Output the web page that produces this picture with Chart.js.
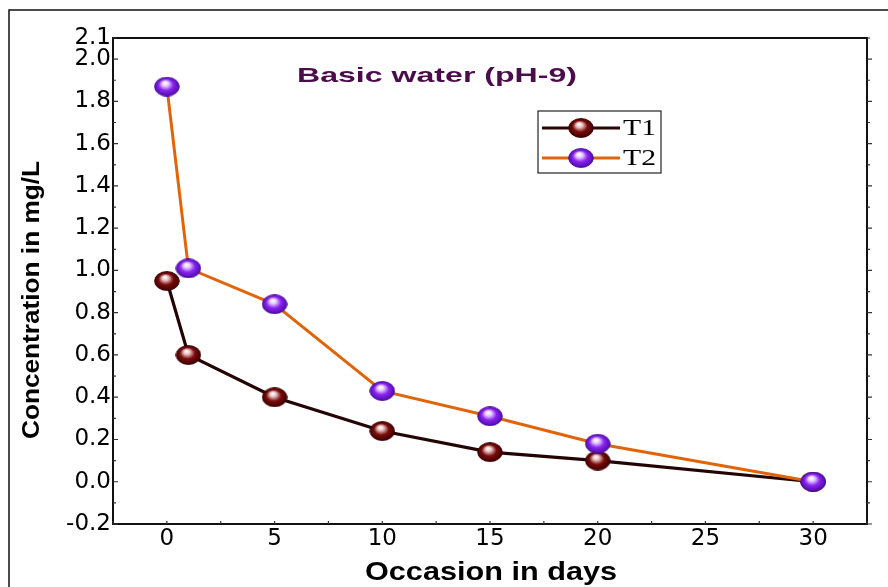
<!DOCTYPE html>
<html>
<head>
<meta charset="utf-8">
<script src="https://cdn.jsdelivr.net/npm/chart.js@4/dist/chart.umd.min.js"></script>
<style>
html,body{margin:0;padding:0;background:#fff;}
#c{display:block;}
</style>
</head>
<body>
<canvas id="c" width="888" height="587"></canvas>
<script>
const days = [0, 1, 5, 10, 15, 20, 30];
const t1Values = [0.95, 0.60, 0.40, 0.24, 0.14, 0.10, 0.00];
const t2Values = [1.87, 1.01, 0.84, 0.43, 0.31, 0.18, 0.00];
const yTickValues = [2.1, 2.0, 1.8, 1.6, 1.4, 1.2, 1.0, 0.8, 0.6, 0.4, 0.2, 0.0, -0.2];
const xTickValues = [0, 5, 10, 15, 20, 25, 30];
const seriesNames = ['T1', 'T2'];
const titleText = 'Basic water (pH-9)';
const xTitle = 'Occasion in days';
const yTitle = 'Concentration in mg/L';

function sphere(base, dark, light) {
  const w = 26, h = 20;
  const c = document.createElement('canvas');
  c.width = w; c.height = h;
  const g = c.getContext('2d');
  g.save();
  g.translate(w / 2, h / 2);
  g.scale(1, h / w);
  const grad = g.createRadialGradient(-2, -5, 0.5, 0, 0, 13);
  grad.addColorStop(0, '#ffffff');
  grad.addColorStop(0.22, light);
  grad.addColorStop(0.55, base);
  grad.addColorStop(1, dark);
  g.beginPath();
  g.arc(0, 0, 12.3, 0, Math.PI * 2);
  g.fillStyle = grad;
  g.fill();
  g.lineWidth = 1;
  g.strokeStyle = dark;
  g.stroke();
  g.restore();
  return c;
}
const redBall = sphere('#7a0b0b', '#3a0000', '#e8c0c0');
const purpleBall = sphere('#8a22f0', '#4a0ca0', '#e6ccff');

// draw text stretched horizontally to a target width
function stretchedText(ctx, text, cx, cy, font, targetWidth, align) {
  ctx.save();
  ctx.font = font;
  const w = ctx.measureText(text).width;
  const sx = targetWidth / w;
  ctx.translate(cx, cy);
  ctx.scale(sx, 1);
  ctx.textAlign = align || 'center';
  ctx.textBaseline = 'middle';
  ctx.fillText(text, 0, 0);
  ctx.restore();
}

const deco = {
  id: 'deco',
  afterDraw(chart) {
    const ctx = chart.ctx;
    const a = chart.chartArea;
    const xs = chart.scales.x, ys = chart.scales.y;
    ctx.save();
    // outer frame (left and top)
    ctx.strokeStyle = '#111';
    ctx.lineWidth = 1.5;
    ctx.beginPath();
    ctx.moveTo(9, 587); ctx.lineTo(9, 10); ctx.lineTo(888, 10);
    ctx.stroke();
    // plot box
    ctx.lineWidth = 2;
    ctx.strokeStyle = '#111';
    ctx.strokeRect(a.left, a.top, a.right - a.left, a.bottom - a.top);
    // y ticks (inner on left, outer on right)
    ctx.lineWidth = 1.2;
    ctx.strokeStyle = '#333';
    for (let v = -2; v <= 21; v++) {
      const py = ys.getPixelForValue(v / 10);
      const major = v % 2 === 0;
      const len = major ? 5 : 3;
      ctx.beginPath();
      ctx.moveTo(a.left, py); ctx.lineTo(a.left + len, py);
      ctx.moveTo(a.right, py); ctx.lineTo(a.right + len, py);
      ctx.stroke();
    }
    // x ticks
    for (let v = -2.5; v <= 32.5; v += 2.5) {
      const px = xs.getPixelForValue(v);
      ctx.beginPath();
      ctx.moveTo(px, a.bottom); ctx.lineTo(px, a.bottom - 3);
      ctx.stroke();
    }
    // title
    ctx.fillStyle = '#4a0d4a';
    stretchedText(ctx, titleText, 437, 76, 'bold 21px "Liberation Sans", Arial, sans-serif', 280);
    // axis titles
    ctx.fillStyle = '#000';
    stretchedText(ctx, xTitle, 491, 573, 'bold 25px "Liberation Sans", Arial, sans-serif', 252);
    ctx.save();
    ctx.translate(33, 300);
    ctx.rotate(-Math.PI / 2);
    stretchedText(ctx, yTitle, 0, 0, 'bold 23px "Liberation Sans", Arial, sans-serif', 278);
    ctx.restore();
    // legend
    const lx = 538, ly = 111, lw = 123, lh = 62;
    ctx.lineWidth = 1.2;
    ctx.strokeStyle = '#222';
    ctx.strokeRect(lx, ly, lw, lh);
    const items = [
      { name: seriesNames[0], color: '#2b0505', img: redBall, y: ly + 17 },
      { name: seriesNames[1], color: '#e0650a', img: purpleBall, y: ly + 47 }
    ];
    items.forEach(it => {
      ctx.strokeStyle = it.color;
      ctx.lineWidth = 3;
      ctx.beginPath();
      ctx.moveTo(lx + 4, it.y); ctx.lineTo(lx + 82, it.y);
      ctx.stroke();
      ctx.drawImage(it.img, lx + 43 - 13, it.y - 10);
      ctx.fillStyle = '#000';
      stretchedText(ctx, it.name, lx + 85, it.y + 1, '23px "Liberation Serif", "Times New Roman", serif', 33, 'left');
    });
    ctx.restore();
  }
};

new Chart(document.getElementById('c'), {
  type: 'line',
  data: {
    datasets: [
      {
        label: seriesNames[1],
        data: days.map((d, i) => ({ x: d, y: t2Values[i] })),
        borderColor: '#e0650a',
        borderWidth: 3,
        pointStyle: purpleBall,
        order: 0,
        tension: 0
      },
      {
        label: seriesNames[0],
        data: days.map((d, i) => ({ x: d, y: t1Values[i] })),
        borderColor: '#230303',
        borderWidth: 3.2,
        pointStyle: redBall,
        order: 1,
        tension: 0
      }
    ]
  },
  options: {
    responsive: false,
    animation: false,
    devicePixelRatio: 1,
    layout: { padding: { left: 0, top: 38, right: 21, bottom: 0 } },
    plugins: { legend: { display: false }, tooltip: { enabled: false } },
    scales: {
      x: {
        type: 'linear',
        min: -2.5,
        max: 32.5,
        afterBuildTicks: s => { s.ticks = xTickValues.map(v => ({ value: v })); },
        afterFit: s => { s.height = 63; },
        grid: { display: false, drawTicks: false },
        border: { display: false },
        ticks: {
          autoSkip: false,
          maxRotation: 0,
          padding: 1,
          color: '#000',
          font: { size: 23, family: '"DejaVu Sans", sans-serif' }
        }
      },
      y: {
        type: 'linear',
        min: -0.2,
        max: 2.1,
        afterBuildTicks: s => { s.ticks = yTickValues.map(v => ({ value: v })); },
        afterFit: s => { s.width = 113; },
        grid: { display: false, drawTicks: false },
        border: { display: false },
        ticks: {
          autoSkip: false,
          padding: 2,
          color: '#000',
          font: { size: 23, family: '"DejaVu Sans", sans-serif' },
          callback: v => Number(v).toFixed(1)
        }
      }
    }
  },
  plugins: [deco]
});
</script>
</body>
</html>
